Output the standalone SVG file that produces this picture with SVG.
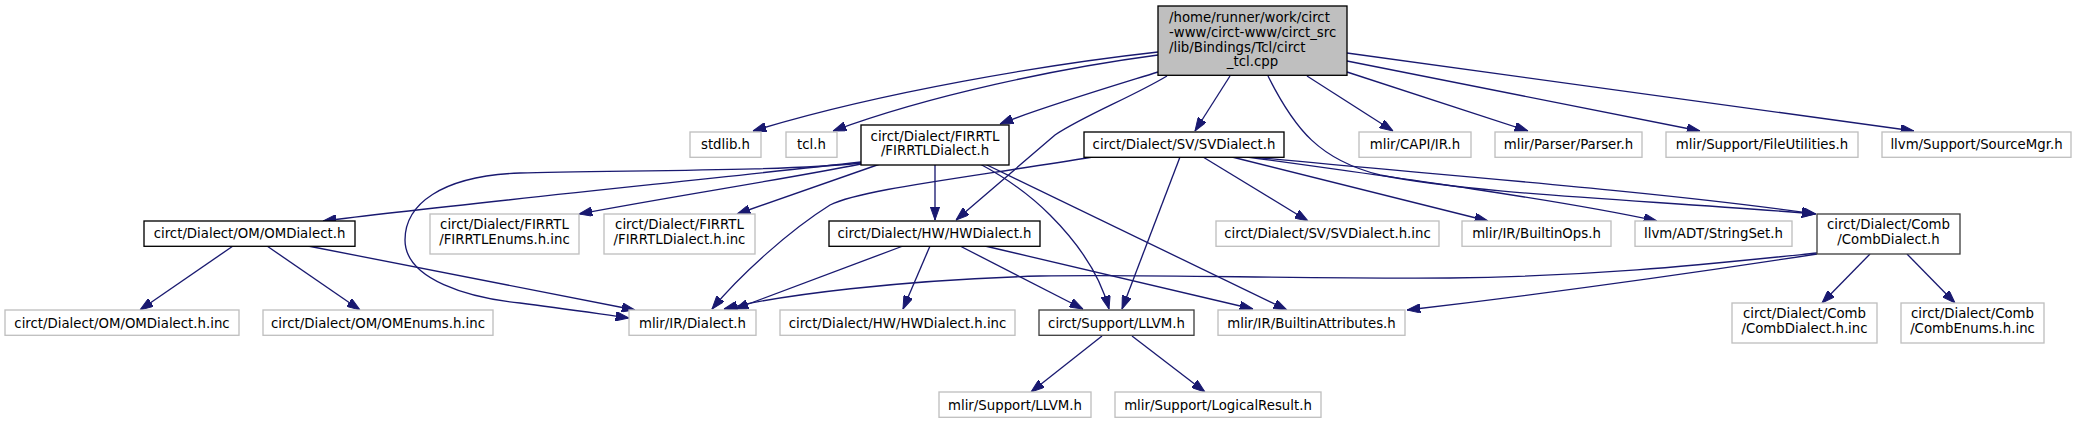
<svg xmlns="http://www.w3.org/2000/svg" width="2077" height="424" viewBox="0 0 2077 424">
<style>
  text { font-family: "DejaVu Sans", "Liberation Sans", sans-serif; font-size: 13.3px; fill: #000; }
  .c { text-anchor: middle; }
  .n rect { fill: #fff; stroke: #bfbfbf; stroke-width: 1.33; }
  .d rect { fill: #fff; stroke: #000; stroke-width: 1.33; }
  .g rect { fill: #fff; stroke: #404040; stroke-width: 1.33; }
  .m rect { fill: #bfbfbf; stroke: #000; stroke-width: 1.33; }
  #edges path { fill: none; stroke: #191970; stroke-width: 1.33; marker-end: url(#ah); }
</style>
<defs>
  <marker id="ah" viewBox="0 0 13.3 9.4" refX="13.3" refY="4.7" markerWidth="13.3" markerHeight="9.4" markerUnits="userSpaceOnUse" orient="auto">
    <path d="M0,0 L13.3,4.7 L0,9.4 z" fill="#191970" stroke="#191970" stroke-width="1"/>
  </marker>
</defs>
<rect width="2077" height="424" fill="#fff"/>

<g id="edges">
  <path d="M1158,52 C1050,64 880,92 753,131"/>
  <path d="M1158,55 C1060,68 930,95 833,131"/>
  <path d="M1158,72 C1100,90 1040,108 1000,124"/>
  <path d="M1167,76 C1130,98 1085,115 1055,135 C1020,165 985,195 956,220"/>
  <path d="M1230,76 L1195,131"/>
  <path d="M1268,76 C1295,130 1320,160 1380,175 C1480,195 1650,200 1815,214"/>
  <path d="M1307,76 L1393,131"/>
  <path d="M1347,72 L1528,131"/>
  <path d="M1347,61 L1700,131"/>
  <path d="M1347,53 L1914,131"/>

  <path d="M861,162 C700,180 450,205 323,221"/>
  <path d="M861,164 C780,180 680,195 579,214"/>
  <path d="M880,164 L737,214"/>
  <path d="M935,164 L935,220"/>
  <path d="M861,163 C780,172 600,170 520,173 C440,176 405,205 405,240 C405,280 470,298 520,303 C560,308 600,314 629,318"/>
  <path d="M980,164 C1010,180 1035,200 1050,215 C1080,245 1100,275 1109,309"/>
  <path d="M985,164 L1287,310"/>

  <path d="M1093,157 C950,180 860,190 830,205 C790,230 740,275 712,309"/>
  <path d="M1180,157 L1122,309"/>
  <path d="M1203,157 L1308,221"/>
  <path d="M1232,157 L1488,221"/>
  <path d="M1247,157 C1400,178 1560,200 1657,221"/>
  <path d="M1253,157 C1400,172 1650,190 1816,214"/>

  <path d="M903,246 L735,309"/>
  <path d="M930,246 L903,309"/>
  <path d="M960,246 L1083,309"/>
  <path d="M985,246 L1253,309"/>

  <path d="M233,246 L140,310"/>
  <path d="M267,246 L360,310"/>
  <path d="M308,246 L635,310"/>

  <path d="M1102,336 L1031,392"/>
  <path d="M1132,336 L1205,392"/>

  <path d="M1870,254 L1822,303"/>
  <path d="M1907,254 L1955,303"/>
  <path d="M1817,253 C1700,265 1600,276 1450,278 C1300,279 1150,274 1040,276 C900,280 780,295 724,309"/>
  <path d="M1817,254 C1700,272 1560,292 1407,310"/>
</g>

<g id="main" class="m">
  <rect x="1158" y="6" width="189" height="69.3"/>
  <text x="1169" y="22.3">/home/runner/work/circt</text>
  <text x="1169" y="37">-www/circt-www/circt_src</text>
  <text x="1169" y="51.6">/lib/Bindings/Tcl/circt</text>
  <text x="1252.5" y="66.3" class="c">_tcl.cpp</text>
</g>

<g id="stdlib" class="n"><rect x="690" y="132" width="71" height="25.3"/><text x="725.5" y="149" class="c">stdlib.h</text></g>
<g id="tcl" class="n"><rect x="786" y="132" width="51" height="25.3"/><text x="811.5" y="149" class="c">tcl.h</text></g>
<g id="firrtl" class="d"><rect x="861" y="125" width="148" height="40"/><text x="935" y="140.7" class="c">circt/Dialect/FIRRTL</text><text x="935" y="155.3" class="c">/FIRRTLDialect.h</text></g>
<g id="sv" class="d"><rect x="1084" y="132" width="200" height="25.3"/><text x="1184" y="149" class="c">circt/Dialect/SV/SVDialect.h</text></g>
<g id="capi" class="n"><rect x="1359" y="132" width="112" height="25.3"/><text x="1415" y="149" class="c">mlir/CAPI/IR.h</text></g>
<g id="parser" class="n"><rect x="1495" y="132" width="147" height="25.3"/><text x="1568.5" y="149" class="c">mlir/Parser/Parser.h</text></g>
<g id="fileutil" class="n"><rect x="1666" y="132" width="192" height="25.3"/><text x="1762" y="149" class="c">mlir/Support/FileUtilities.h</text></g>
<g id="srcmgr" class="n"><rect x="1882" y="132" width="189" height="25.3"/><text x="1976.5" y="149" class="c">llvm/Support/SourceMgr.h</text></g>

<g id="om" class="d"><rect x="144" y="221" width="211" height="25.3"/><text x="249.5" y="238" class="c">circt/Dialect/OM/OMDialect.h</text></g>
<g id="firrtlenums" class="n"><rect x="430" y="214" width="149" height="40"/><text x="504.5" y="229.3" class="c">circt/Dialect/FIRRTL</text><text x="504.5" y="244" class="c">/FIRRTLEnums.h.inc</text></g>
<g id="firrtlinc" class="n"><rect x="604" y="214" width="151" height="40"/><text x="679.5" y="229.3" class="c">circt/Dialect/FIRRTL</text><text x="679.5" y="244" class="c">/FIRRTLDialect.h.inc</text></g>
<g id="hw" class="d"><rect x="829" y="221" width="211" height="25.3"/><text x="934.5" y="238" class="c">circt/Dialect/HW/HWDialect.h</text></g>
<g id="svinc" class="n"><rect x="1216" y="221" width="223" height="25.3"/><text x="1327.5" y="238" class="c">circt/Dialect/SV/SVDialect.h.inc</text></g>
<g id="builtinops" class="n"><rect x="1462" y="221" width="149" height="25.3"/><text x="1536.5" y="238" class="c">mlir/IR/BuiltinOps.h</text></g>
<g id="stringset" class="n"><rect x="1635" y="221" width="157" height="25.3"/><text x="1713.5" y="238" class="c">llvm/ADT/StringSet.h</text></g>
<g id="comb" class="g"><rect x="1817" y="214" width="143" height="40"/><text x="1888.5" y="229.3" class="c">circt/Dialect/Comb</text><text x="1888.5" y="244" class="c">/CombDialect.h</text></g>

<g id="ominc" class="n"><rect x="5" y="310" width="234" height="25.3"/><text x="122" y="327.5" class="c">circt/Dialect/OM/OMDialect.h.inc</text></g>
<g id="omenums" class="n"><rect x="263" y="310" width="230" height="25.3"/><text x="378" y="327.5" class="c">circt/Dialect/OM/OMEnums.h.inc</text></g>
<g id="dialect" class="n"><rect x="629" y="310" width="127" height="25.3"/><text x="692.5" y="327.5" class="c">mlir/IR/Dialect.h</text></g>
<g id="hwinc" class="n"><rect x="780" y="310" width="235" height="25.3"/><text x="897.5" y="327.5" class="c">circt/Dialect/HW/HWDialect.h.inc</text></g>
<g id="llvm" class="g"><rect x="1039" y="310" width="155" height="25.3"/><text x="1116.5" y="327.5" class="c">circt/Support/LLVM.h</text></g>
<g id="battr" class="n"><rect x="1218" y="310" width="187" height="25.3"/><text x="1311.5" y="327.5" class="c">mlir/IR/BuiltinAttributes.h</text></g>
<g id="combinc" class="n"><rect x="1732" y="303" width="145" height="40"/><text x="1804.5" y="318.3" class="c">circt/Dialect/Comb</text><text x="1804.5" y="333" class="c">/CombDialect.h.inc</text></g>
<g id="combenums" class="n"><rect x="1901" y="303" width="143" height="40"/><text x="1972.5" y="318.3" class="c">circt/Dialect/Comb</text><text x="1972.5" y="333" class="c">/CombEnums.h.inc</text></g>

<g id="mlirllvm" class="n"><rect x="939" y="392" width="152" height="25.3"/><text x="1015" y="409.5" class="c">mlir/Support/LLVM.h</text></g>
<g id="logical" class="n"><rect x="1115" y="392" width="206" height="25.3"/><text x="1218" y="409.5" class="c">mlir/Support/LogicalResult.h</text></g>
</svg>
